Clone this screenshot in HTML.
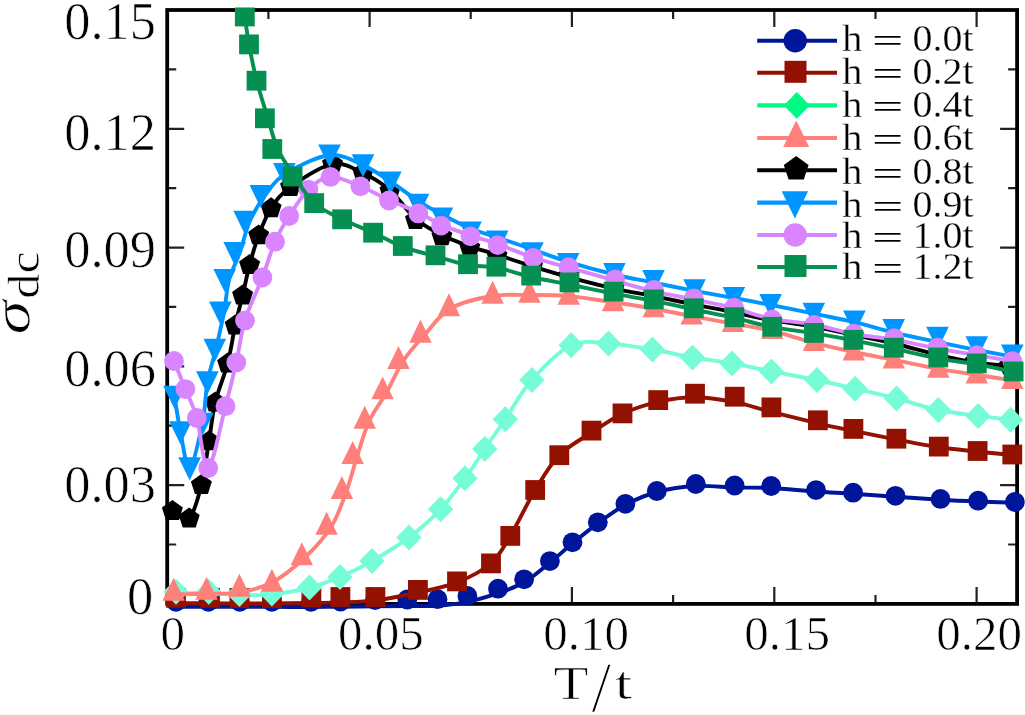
<!DOCTYPE html>
<html lang="en"><head><meta charset="utf-8"><title>sigma_dc vs T/t</title>
<style>html,body{margin:0;padding:0;background:#fff;width:1025px;height:715px;overflow:hidden;}svg{display:block;}text{font-family:"Liberation Serif","DejaVu Serif",serif;fill:#000;stroke:#fff;stroke-width:0.7px;}</style></head><body>
<svg width="1025" height="715" viewBox="0 0 1025 715">
<rect x="0" y="0" width="1025" height="715" fill="#fff"/>
<path d="M369.6,10 v17 M369.6,603.9 v-17 M571.9,10 v17 M571.9,603.9 v-17 M774.3,10 v17 M774.3,603.9 v-17 M976.6,10 v17 M976.6,603.9 v-17 M268.4,10 v9 M268.4,603.9 v-9 M470.7,10 v9 M470.7,603.9 v-9 M673.1,10 v9 M673.1,603.9 v-9 M875.5,10 v9 M875.5,603.9 v-9 M167.2,128.8 h17 M1017.1,128.8 h-17 M167.2,247.6 h17 M1017.1,247.6 h-17 M167.2,366.3 h17 M1017.1,366.3 h-17 M167.2,485.1 h17 M1017.1,485.1 h-17 M167.2,69.4 h9 M1017.1,69.4 h-9 M167.2,188.2 h9 M1017.1,188.2 h-9 M167.2,306.9 h9 M1017.1,306.9 h-9 M167.2,425.7 h9 M1017.1,425.7 h-9 M167.2,544.5 h9 M1017.1,544.5 h-9" stroke="#222" stroke-width="2.2" fill="none"/>
<rect x="167.2" y="10" width="849.9" height="593.9" fill="none" stroke="#000" stroke-width="3.8"/>
<clipPath id="c"><rect x="161.2" y="7.4" width="863.9" height="605.9"/></clipPath>
<g clip-path="url(#c)">
<path d="M176,606.8C181.4,606.8 197.8,606.8 208.4,606.8C219,606.9 229.2,606.9 239.8,606.9C250.4,606.9 260,606.9 271.9,606.9C283.8,606.9 299.6,607 311,607C322.4,606.9 329.8,606.8 340.5,606.7C351.2,606.6 363.9,606.4 375,606.3C386.1,606.2 396.9,606.1 407.3,606C417.7,605.9 427.5,606.4 437.5,605.7C447.5,605 457.3,604 467.4,601.9C477.5,599.8 488.6,596.5 498,593.2C507.4,589.9 515.5,587.4 524.1,582.3C532.8,577.2 541.8,569.1 549.9,562.6C558,556.1 564.5,549.9 572.5,543.3C580.5,536.7 589,529.7 597.8,523.3C606.6,516.9 615.6,510 625.4,504.8C635.2,499.6 645.1,495.2 656.8,492C668.5,488.9 682.8,486.7 695.8,486C708.8,485.2 722,487.2 734.6,487.5C747.2,487.8 757.6,487.3 771.2,488C784.8,488.7 802.4,490.6 816,491.5C829.6,492.5 839.9,492.8 853.1,493.7C866.4,494.6 880.9,495.7 895.5,496.7C910.1,497.7 926.7,498.9 940.5,499.7C954.3,500.5 965.7,501 978.1,501.5C990.5,502 1008.8,502.5 1014.9,502.7" fill="none" stroke="#00169A" stroke-width="3.9" stroke-linejoin="round"/>
<circle cx="176" cy="601.8" r="9.9" fill="#00169A"/><circle cx="208.4" cy="601.8" r="9.9" fill="#00169A"/><circle cx="239.8" cy="601.8" r="9.9" fill="#00169A"/><circle cx="271.9" cy="601.8" r="9.9" fill="#00169A"/><circle cx="311" cy="601.8" r="9.9" fill="#00169A"/><circle cx="340.5" cy="601.5" r="9.9" fill="#00169A"/><circle cx="375" cy="600" r="9.9" fill="#00169A"/><circle cx="407.3" cy="599.5" r="9.9" fill="#00169A"/><circle cx="437.5" cy="599.2" r="9.9" fill="#00169A"/><circle cx="467.4" cy="595.9" r="9.9" fill="#00169A"/><circle cx="498" cy="588.7" r="9.9" fill="#00169A"/><circle cx="524.1" cy="579.3" r="9.9" fill="#00169A"/><circle cx="549.9" cy="561.1" r="9.9" fill="#00169A"/><circle cx="572.5" cy="542.3" r="9.9" fill="#00169A"/><circle cx="597.8" cy="522.3" r="9.9" fill="#00169A"/><circle cx="625.4" cy="503.8" r="9.9" fill="#00169A"/><circle cx="656.8" cy="491" r="9.9" fill="#00169A"/><circle cx="695.8" cy="484" r="9.9" fill="#00169A"/><circle cx="734.6" cy="485.5" r="9.9" fill="#00169A"/><circle cx="771.2" cy="486" r="9.9" fill="#00169A"/><circle cx="816" cy="490.1" r="9.9" fill="#00169A"/><circle cx="853.1" cy="492.7" r="9.9" fill="#00169A"/><circle cx="895.5" cy="495.8" r="9.9" fill="#00169A"/><circle cx="940.5" cy="498.9" r="9.9" fill="#00169A"/><circle cx="978.1" cy="500.7" r="9.9" fill="#00169A"/><circle cx="1014.9" cy="502" r="9.9" fill="#00169A"/>
<path d="M176,603.3C181.7,603.3 199.4,603.3 210,603.3C220.6,603.3 229.1,603.5 239.4,603.5C249.7,603.5 259.9,603.6 271.9,603.5C283.9,603.4 300,603.2 311.4,603C322.8,602.8 329.7,602.9 340.4,602.5C351.1,602.1 362.5,602.2 375.4,600.5C388.3,598.8 404.3,595.5 417.9,592.5C431.5,589.5 444.8,587.3 457,582.4C469.2,577.5 482.1,571.1 491,563.4C499.9,555.6 502.9,548.1 510.3,535.9C517.7,523.7 527,503.4 535.2,490C543.4,476.6 549.9,464.8 559.3,455.2C568.7,445.6 581,439.5 591.5,432.6C602,425.7 611.4,418.9 622.5,413.7C633.6,408.6 646.1,404.5 658.2,401.8C670.3,399.1 682.2,397.3 695,397.3C707.8,397.3 722,399.7 734.7,402.1C747.4,404.5 757.5,408.4 771.4,411.9C785.3,415.4 804.2,420.1 817.9,423.3C831.6,426.5 840.3,428.2 853.4,430.9C866.5,433.6 882.2,436.8 896.4,439.5C910.6,442.2 925.3,445.3 938.8,447.3C952.3,449.3 965.4,450.3 977.6,451.6C989.9,452.9 1006.5,454.4 1012.3,455" fill="none" stroke="#921100" stroke-width="3.9" stroke-linejoin="round"/>
<rect x="166.1" y="587.9" width="19.8" height="19.8" fill="#921100"/><rect x="200.1" y="587.9" width="19.8" height="19.8" fill="#921100"/><rect x="229.5" y="588.1" width="19.8" height="19.8" fill="#921100"/><rect x="262" y="588.1" width="19.8" height="19.8" fill="#921100"/><rect x="301.5" y="587.6" width="19.8" height="19.8" fill="#921100"/><rect x="330.5" y="587.1" width="19.8" height="19.8" fill="#921100"/><rect x="365.5" y="587.1" width="19.8" height="19.8" fill="#921100"/><rect x="408" y="580" width="19.8" height="19.8" fill="#921100"/><rect x="447.1" y="571.5" width="19.8" height="19.8" fill="#921100"/><rect x="481.1" y="553.5" width="19.8" height="19.8" fill="#921100"/><rect x="500.4" y="526" width="19.8" height="19.8" fill="#921100"/><rect x="525.3" y="480.1" width="19.8" height="19.8" fill="#921100"/><rect x="549.4" y="445.3" width="19.8" height="19.8" fill="#921100"/><rect x="581.6" y="420.7" width="19.8" height="19.8" fill="#921100"/><rect x="612.6" y="403.5" width="19.8" height="19.8" fill="#921100"/><rect x="648.3" y="390.2" width="19.8" height="19.8" fill="#921100"/><rect x="685.1" y="383.8" width="19.8" height="19.8" fill="#921100"/><rect x="724.8" y="386.8" width="19.8" height="19.8" fill="#921100"/><rect x="761.5" y="397.5" width="19.8" height="19.8" fill="#921100"/><rect x="808" y="410.4" width="19.8" height="19.8" fill="#921100"/><rect x="843.5" y="419" width="19.8" height="19.8" fill="#921100"/><rect x="886.5" y="428.8" width="19.8" height="19.8" fill="#921100"/><rect x="928.9" y="436.7" width="19.8" height="19.8" fill="#921100"/><rect x="967.7" y="441.1" width="19.8" height="19.8" fill="#921100"/><rect x="1002.4" y="444.6" width="19.8" height="19.8" fill="#921100"/>
<path d="M176,593.2C181.5,593.1 198.2,592.7 208.8,593C219.4,593.3 228.9,594.8 239.4,595.1C249.9,595.3 260.2,595.7 271.9,594.4C283.6,593.2 298.1,590.4 309.5,587.5C320.9,584.6 329.6,581.4 340,577C350.4,572.6 360.5,567.6 372,561C383.5,554.4 397.6,546 409,537.4C420.4,528.8 431.3,519.1 440.6,509.3C449.9,499.5 457.6,488.4 465,478.3C472.4,468.2 478.1,458.9 484.8,449C491.5,439.1 497.5,430.7 505.3,419.2C513.1,407.7 520.9,392.2 531.9,379.9C542.9,367.6 558.4,351.2 571.2,345.2C584,339.1 595,342.9 608.5,343.6C622,344.3 638.4,347.2 652.4,349.5C666.4,351.8 679.2,355.2 692.5,357.5C705.8,359.8 718.9,361.1 732,363.4C745.1,365.7 757.2,368.6 771.4,371.4C785.5,374.2 802.9,377.1 816.9,380C830.9,382.9 841.8,385.6 855.1,388.7C868.4,391.8 882.6,394.9 896.5,398.5C910.4,402.1 924.7,407.1 938.3,410C951.9,412.9 966,414.3 978.1,415.9C990.2,417.5 1005.2,419.1 1010.6,419.7" fill="none" stroke="#76FCD6" stroke-width="3.9" stroke-linejoin="round"/>
<polygon points="176,578.7 188.7,591.7 176,604.7 163.3,591.7" fill="#76FCD6"/><polygon points="208.8,578.7 221.5,591.7 208.8,604.7 196.1,591.7" fill="#76FCD6"/><polygon points="239.4,580.9 252.1,593.9 239.4,606.9 226.7,593.9" fill="#76FCD6"/><polygon points="271.9,580.4 284.6,593.4 271.9,606.4 259.2,593.4" fill="#76FCD6"/><polygon points="309.5,574.5 322.2,587.5 309.5,600.5 296.8,587.5" fill="#76FCD6"/><polygon points="340,564 352.7,577 340,590 327.3,577" fill="#76FCD6"/><polygon points="372,548 384.7,561 372,574 359.3,561" fill="#76FCD6"/><polygon points="409,524.4 421.7,537.4 409,550.4 396.3,537.4" fill="#76FCD6"/><polygon points="440.6,496.3 453.3,509.3 440.6,522.3 427.9,509.3" fill="#76FCD6"/><polygon points="465,465.3 477.7,478.3 465,491.3 452.3,478.3" fill="#76FCD6"/><polygon points="484.8,436 497.5,449 484.8,462 472.1,449" fill="#76FCD6"/><polygon points="505.3,406.2 518,419.2 505.3,432.2 492.6,419.2" fill="#76FCD6"/><polygon points="531.9,366.9 544.6,379.9 531.9,392.9 519.2,379.9" fill="#76FCD6"/><polygon points="571.2,332.2 583.9,345.2 571.2,358.2 558.5,345.2" fill="#76FCD6"/><polygon points="608.5,330.6 621.2,343.6 608.5,356.6 595.8,343.6" fill="#76FCD6"/><polygon points="652.4,336.5 665.1,349.5 652.4,362.5 639.7,349.5" fill="#76FCD6"/><polygon points="692.5,344.5 705.2,357.5 692.5,370.5 679.8,357.5" fill="#76FCD6"/><polygon points="732,350.4 744.7,363.4 732,376.4 719.3,363.4" fill="#76FCD6"/><polygon points="771.4,358.4 784.1,371.4 771.4,384.4 758.7,371.4" fill="#76FCD6"/><polygon points="816.9,367 829.6,380 816.9,393 804.2,380" fill="#76FCD6"/><polygon points="855.1,375.7 867.8,388.7 855.1,401.7 842.4,388.7" fill="#76FCD6"/><polygon points="896.5,385.5 909.2,398.5 896.5,411.5 883.8,398.5" fill="#76FCD6"/><polygon points="938.3,397 951,410 938.3,423 925.6,410" fill="#76FCD6"/><polygon points="978.1,402.9 990.8,415.9 978.1,428.9 965.4,415.9" fill="#76FCD6"/><polygon points="1010.6,406.7 1023.3,419.7 1010.6,432.7 997.9,419.7" fill="#76FCD6"/>
<path d="M173.6,594.4C179.1,594.3 195.5,594.1 206.5,593.8C217.5,593.5 228.5,594.3 239.4,592.4C250.3,590.6 261,588.3 271.9,582.5C282.8,576.7 295,566.8 304.9,557.5C314.8,548.2 324.2,538 331.1,527C338,516 342,503.1 346.4,491.3C350.8,479.5 353.4,467.9 357.2,456.2C361,444.5 364.2,431.8 369.2,421C374.2,410.2 381.5,401.6 387.1,391.6C392.7,381.6 396.8,370.6 403,361.2C409.2,351.8 416.5,343.8 424.5,335C432.4,326.2 439.1,315 450.5,308.5C461.9,302 479.5,298.2 492.6,296C505.8,293.8 516.7,295 529.4,295C542.1,295 554.8,294.9 568.7,296.1C582.7,297.3 598.9,300.2 613.1,302.3C627.3,304.4 640.6,306.4 653.7,308.7C666.8,311 678.4,313.6 691.6,316.1C704.8,318.6 719.5,321.1 732.9,323.6C746.3,326.1 758.7,327.7 772.2,330.9C785.7,334.1 800.4,339.4 814,342.9C827.6,346.4 840.5,349.2 853.8,352C867.1,354.9 879.7,357.1 893.8,359.9C907.9,362.7 924.5,366.4 938.3,368.9C952.1,371.4 964.5,372.9 976.8,374.9C989.1,376.8 1006.4,379.5 1012.3,380.4" fill="none" stroke="#FF807A" stroke-width="3.9" stroke-linejoin="round"/>
<polygon points="173.6,577.8 184.8,600.7 162.4,600.7" fill="#FF807A"/><polygon points="206.5,576.8 217.7,599.7 195.3,599.7" fill="#FF807A"/><polygon points="239.4,573.8 250.6,596.7 228.2,596.7" fill="#FF807A"/><polygon points="271.9,568.8 283.1,591.7 260.7,591.7" fill="#FF807A"/><polygon points="301.8,542.3 313,565.2 290.6,565.2" fill="#FF807A"/><polygon points="326.6,511.8 337.8,534.7 315.4,534.7" fill="#FF807A"/><polygon points="341.9,476.1 353.1,499 330.7,499" fill="#FF807A"/><polygon points="352.7,441 363.9,463.9 341.5,463.9" fill="#FF807A"/><polygon points="364.7,405.8 375.9,428.7 353.5,428.7" fill="#FF807A"/><polygon points="382.6,376.4 393.8,399.3 371.4,399.3" fill="#FF807A"/><polygon points="398.5,346 409.7,368.9 387.3,368.9" fill="#FF807A"/><polygon points="420.5,319.8 431.7,342.7 409.3,342.7" fill="#FF807A"/><polygon points="449,293.3 460.2,316.2 437.8,316.2" fill="#FF807A"/><polygon points="492.6,280.8 503.8,303.7 481.4,303.7" fill="#FF807A"/><polygon points="529.4,279.8 540.6,302.7 518.2,302.7" fill="#FF807A"/><polygon points="568.7,281.8 579.9,304.7 557.5,304.7" fill="#FF807A"/><polygon points="613.1,288.3 624.3,311.2 601.9,311.2" fill="#FF807A"/><polygon points="653.7,294.4 664.9,317.3 642.5,317.3" fill="#FF807A"/><polygon points="691.6,301.7 702.8,324.6 680.4,324.6" fill="#FF807A"/><polygon points="732.9,309 744.1,331.9 721.7,331.9" fill="#FF807A"/><polygon points="772.2,316.1 783.4,339 761,339" fill="#FF807A"/><polygon points="814,328.1 825.2,351 802.8,351" fill="#FF807A"/><polygon points="853.8,337.5 865,360.4 842.6,360.4" fill="#FF807A"/><polygon points="893.8,345.6 905,368.5 882.6,368.5" fill="#FF807A"/><polygon points="938.3,354.8 949.5,377.7 927.1,377.7" fill="#FF807A"/><polygon points="976.8,360.7 988,383.6 965.6,383.6" fill="#FF807A"/><polygon points="1012.3,366.2 1023.5,389.1 1001.1,389.1" fill="#FF807A"/>
<path d="M172.4,511C175.2,512.2 184.4,522.8 189.2,518.5C194,514.2 198.1,497.9 201.4,485C204.7,472.1 206.7,455.1 209,441.3C211.3,427.6 212.1,415.4 215.2,402.5C218.3,389.6 224.3,376.4 227.6,363.6C230.9,350.8 232.7,336.9 235.2,325.5C237.7,314.1 240.2,305.6 242.6,295.5C245,285.4 246.9,275 249.6,265C252.3,255 255.1,244.8 258.7,235.4C262.3,226 265.8,216.4 271.1,208.3C276.4,200.2 280.4,194.3 290.6,187C300.8,179.7 320.4,166.5 332.5,164.2C344.6,161.9 353.4,168.6 363,173C372.6,177.4 381.2,182.7 390,190.3C398.8,198 406.9,211.3 415.5,218.7C424.1,226.1 432.8,230.4 441.9,235C450.9,239.6 460.6,243.1 469.8,246.4C479,249.7 486.6,251.4 497,254.7C507.4,258 520.5,262.6 532.5,266.3C544.5,270 555,273.3 568.7,277.1C582.4,280.8 600.3,285.5 614.5,288.6C628.7,291.8 640.5,293.5 653.7,296.1C666.9,298.8 680.4,301.7 693.8,304.4C707.2,307.1 721,309.6 734,312.3C747,314.9 758.7,318 772,320.4C785.3,322.7 800.4,324.2 814,326.6C827.6,329.1 840.2,332.1 853.5,334.9C866.8,337.8 879.9,340.1 894,343.5C908.1,346.8 924.4,351.8 938,355C951.6,358.2 963.6,360.7 975.5,362.6C987.4,364.4 1003.9,365.3 1009.6,365.8" fill="none" stroke="#000000" stroke-width="3.9" stroke-linejoin="round"/>
<polygon points="172.4,500 182.9,507.6 178.9,519.9 165.9,519.9 161.9,507.6" fill="#000000"/><polygon points="189.2,507.5 199.7,515.1 195.7,527.4 182.7,527.4 178.7,515.1" fill="#000000"/><polygon points="201.4,474 211.9,481.6 207.9,493.9 194.9,493.9 190.9,481.6" fill="#000000"/><polygon points="209,430.3 219.5,437.9 215.5,450.2 202.5,450.2 198.5,437.9" fill="#000000"/><polygon points="215.2,391.5 225.7,399.1 221.7,411.4 208.7,411.4 204.7,399.1" fill="#000000"/><polygon points="227.6,352.6 238.1,360.2 234.1,372.5 221.1,372.5 217.1,360.2" fill="#000000"/><polygon points="235.2,314.5 245.7,322.1 241.7,334.4 228.7,334.4 224.7,322.1" fill="#000000"/><polygon points="242.6,284.5 253.1,292.1 249.1,304.4 236.1,304.4 232.1,292.1" fill="#000000"/><polygon points="249.6,254 260.1,261.6 256.1,273.9 243.1,273.9 239.1,261.6" fill="#000000"/><polygon points="258.7,224.4 269.2,232 265.2,244.3 252.2,244.3 248.2,232" fill="#000000"/><polygon points="271.1,197.3 281.6,204.9 277.6,217.2 264.6,217.2 260.6,204.9" fill="#000000"/><polygon points="290.6,176 301.1,183.6 297.1,195.9 284.1,195.9 280.1,183.6" fill="#000000"/><polygon points="332.5,153.2 343,160.8 339,173.1 326,173.1 322,160.8" fill="#000000"/><polygon points="363,162 373.5,169.6 369.5,181.9 356.5,181.9 352.5,169.6" fill="#000000"/><polygon points="390,180 400.5,187.6 396.5,199.9 383.5,199.9 379.5,187.6" fill="#000000"/><polygon points="415.5,209 426,216.6 422,228.9 409,228.9 405,216.6" fill="#000000"/><polygon points="441.9,225.3 452.4,232.9 448.4,245.2 435.4,245.2 431.4,232.9" fill="#000000"/><polygon points="469.8,236.7 480.3,244.3 476.3,256.6 463.3,256.6 459.3,244.3" fill="#000000"/><polygon points="497,245 507.5,252.6 503.5,264.9 490.5,264.9 486.5,252.6" fill="#000000"/><polygon points="532.5,255.5 543,263.1 539,275.4 526,275.4 522,263.1" fill="#000000"/><polygon points="568.7,265 579.2,272.6 575.2,284.9 562.2,284.9 558.2,272.6" fill="#000000"/><polygon points="614.5,276 625,283.6 621,295.9 608,295.9 604,283.6" fill="#000000"/><polygon points="653.7,284 664.2,291.6 660.2,303.9 647.2,303.9 643.2,291.6" fill="#000000"/><polygon points="693.8,293 704.3,300.6 700.3,312.9 687.3,312.9 683.3,300.6" fill="#000000"/><polygon points="734,302 744.5,309.6 740.5,321.9 727.5,321.9 723.5,309.6" fill="#000000"/><polygon points="772,311.5 782.5,319.1 778.5,331.4 765.5,331.4 761.5,319.1" fill="#000000"/><polygon points="814,318 824.5,325.6 820.5,337.9 807.5,337.9 803.5,325.6" fill="#000000"/><polygon points="853.5,325 864,332.6 860,344.9 847,344.9 843,332.6" fill="#000000"/><polygon points="894,332.5 904.5,340.1 900.5,352.4 887.5,352.4 883.5,340.1" fill="#000000"/><polygon points="938,343 948.5,350.6 944.5,362.9 931.5,362.9 927.5,350.6" fill="#000000"/><polygon points="975.5,350.5 986,358.1 982,370.4 969,370.4 965,358.1" fill="#000000"/><polygon points="1009.6,354.6 1020.1,362.2 1016.1,374.5 1003.1,374.5 999.1,362.2" fill="#000000"/>
<path d="M174.5,396.5C175.5,402.4 178,420.1 180.5,432C183,443.9 186,469.4 189.7,468C193.3,466.6 199.4,437.8 202.4,423.5C205.4,409.2 205.2,394.3 207.5,382C209.7,369.7 213,361.1 215.8,349.5C218.5,337.9 221.8,324 224,312.4C226.2,300.8 226.5,289.6 229.1,279.7C231.8,269.8 236.3,262.6 239.7,252.9C243.1,243.2 245.5,231 249.7,221.5C253.9,212 258.9,203.7 264.8,195.7C270.8,187.7 274.6,180.4 285.4,173.7C296.2,166.9 316.6,156.6 329.5,155.2C342.4,153.8 352.9,160.7 363,165.1C373.1,169.5 381.1,175.4 390.3,181.4C399.5,187.3 409.4,195.3 418,200.8C426.6,206.3 433.1,209.9 441.9,214.5C450.6,219.1 461.3,224.7 470.5,228.5C479.7,232.3 486.9,233.9 497.2,237.4C507.5,240.9 520.6,245.2 532.4,249.3C544.2,253.4 554.5,257.6 568.2,261.8C581.9,266 600.2,271 614.4,274.5C628.6,278 640.1,279.8 653.5,282.6C666.9,285.3 681.1,288.3 694.5,290.9C707.9,293.5 721.2,295.7 733.9,298C746.6,300.4 757.3,302.3 770.6,304.9C783.9,307.6 799.8,310.8 813.8,313.7C827.8,316.6 841.1,318.9 854.4,322.1C867.7,325.2 879.9,329.3 893.7,332.6C907.6,335.9 923.6,338.9 937.5,341.9C951.4,344.8 964.3,347.7 976.8,350.2C989.3,352.6 1006.4,355.3 1012.3,356.4" fill="none" stroke="#0096FF" stroke-width="3.9" stroke-linejoin="round"/>
<polygon points="163.2,385.7 185.8,385.7 174.5,408.9" fill="#0096FF"/><polygon points="169.2,421.2 191.8,421.2 180.5,444.4" fill="#0096FF"/><polygon points="178.4,457.2 201,457.2 189.7,480.4" fill="#0096FF"/><polygon points="191.1,412.7 213.7,412.7 202.4,435.9" fill="#0096FF"/><polygon points="196.1,371.2 218.7,371.2 207.4,394.4" fill="#0096FF"/><polygon points="203.5,338.7 226.1,338.7 214.8,361.9" fill="#0096FF"/><polygon points="209.1,301.6 231.7,301.6 220.4,324.8" fill="#0096FF"/><polygon points="213.4,268.9 236,268.9 224.7,292.1" fill="#0096FF"/><polygon points="223.4,242.1 246,242.1 234.7,265.3" fill="#0096FF"/><polygon points="233.4,210.7 256,210.7 244.7,233.9" fill="#0096FF"/><polygon points="249.5,184.9 272.1,184.9 260.8,208.1" fill="#0096FF"/><polygon points="273.1,162.9 295.7,162.9 284.4,186.1" fill="#0096FF"/><polygon points="318.2,144.4 340.8,144.4 329.5,167.6" fill="#0096FF"/><polygon points="351.7,154.3 374.3,154.3 363,177.5" fill="#0096FF"/><polygon points="379,171.6 401.6,171.6 390.3,194.8" fill="#0096FF"/><polygon points="406.7,193.7 429.3,193.7 418,216.9" fill="#0096FF"/><polygon points="430.6,207.5 453.2,207.5 441.9,230.7" fill="#0096FF"/><polygon points="459.2,221.5 481.8,221.5 470.5,244.7" fill="#0096FF"/><polygon points="485.9,230.4 508.5,230.4 497.2,253.6" fill="#0096FF"/><polygon points="521.1,242.3 543.7,242.3 532.4,265.5" fill="#0096FF"/><polygon points="556.9,252.9 579.5,252.9 568.2,276.1" fill="#0096FF"/><polygon points="603.1,263.1 625.7,263.1 614.4,286.3" fill="#0096FF"/><polygon points="642.2,270 664.8,270 653.5,293.2" fill="#0096FF"/><polygon points="683.2,279.3 705.8,279.3 694.5,302.5" fill="#0096FF"/><polygon points="722.6,286.9 745.2,286.9 733.9,310.1" fill="#0096FF"/><polygon points="759.3,294 781.9,294 770.6,317.2" fill="#0096FF"/><polygon points="802.5,302.7 825.1,302.7 813.8,325.9" fill="#0096FF"/><polygon points="843.1,310.5 865.7,310.5 854.4,333.7" fill="#0096FF"/><polygon points="882.4,319.1 905,319.1 893.7,342.3" fill="#0096FF"/><polygon points="926.2,326.8 948.8,326.8 937.5,350" fill="#0096FF"/><polygon points="965.5,336.2 988.1,336.2 976.8,359.4" fill="#0096FF"/><polygon points="1001,344.5 1023.6,344.5 1012.3,367.7" fill="#0096FF"/>
<path d="M174,361C175.9,365.7 181.6,379.6 185.4,389.1C189.2,398.6 193,404.9 196.8,418C200.6,431.1 203.4,470 208.2,468C213,466 220.8,423.8 225.5,406.2C230.2,388.6 233.1,376.7 236.3,362.4C239.6,348.1 240.7,334.5 245,320.4C249.3,306.2 257.4,290.6 262.4,277.5C267.4,264.4 270.5,251.9 275,241.7C279.5,231.4 283.6,224.7 289.2,216C294.8,207.3 301.5,196.1 308.4,189.6C315.3,183.1 321.8,177.4 330.5,176.9C339.2,176.4 350.6,182.4 360.4,186.3C370.1,190.2 379.4,195.7 389,200.1C398.6,204.4 409.6,208.3 418.3,212.4C427,216.5 432.4,220.8 441.1,224.6C449.8,228.4 461.1,232.1 470.5,235.3C479.9,238.6 487.2,240.4 497.7,244.1C508.1,247.8 521.4,253.6 533.2,257.5C545,261.4 555.1,263.7 568.7,267.6C582.4,271.4 600.9,276.6 615.1,280.6C629.3,284.6 640.7,288.2 653.8,291.4C666.9,294.5 680.4,296.6 693.8,299.4C707.2,302.2 720.9,304.9 734,308.2C747.1,311.5 759,316.4 772.3,319.1C785.6,321.8 800.4,321.9 814,324.5C827.6,327 840.4,331.6 853.8,334.1C867.2,336.6 880.2,337.2 894.2,339.6C908.2,342 923.9,346 937.7,348.6C951.5,351.2 964.4,353.1 976.9,355.2C989.4,357.3 1006.6,360.2 1012.5,361.2" fill="none" stroke="#D885FF" stroke-width="3.9" stroke-linejoin="round"/>
<circle cx="174" cy="361" r="9.9" fill="#D885FF"/><circle cx="185.4" cy="389.1" r="9.9" fill="#D885FF"/><circle cx="196.8" cy="418" r="9.9" fill="#D885FF"/><circle cx="208.2" cy="468" r="9.9" fill="#D885FF"/><circle cx="225.5" cy="406.2" r="9.9" fill="#D885FF"/><circle cx="236.3" cy="362.4" r="9.9" fill="#D885FF"/><circle cx="245" cy="320.4" r="9.9" fill="#D885FF"/><circle cx="262.4" cy="277.5" r="9.9" fill="#D885FF"/><circle cx="275" cy="241.7" r="9.9" fill="#D885FF"/><circle cx="289.2" cy="216" r="9.9" fill="#D885FF"/><circle cx="308.4" cy="189.6" r="9.9" fill="#D885FF"/><circle cx="330.5" cy="176.9" r="9.9" fill="#D885FF"/><circle cx="360.4" cy="186.3" r="9.9" fill="#D885FF"/><circle cx="389" cy="200.5" r="9.9" fill="#D885FF"/><circle cx="418.3" cy="213.4" r="9.9" fill="#D885FF"/><circle cx="441.1" cy="225.6" r="9.9" fill="#D885FF"/><circle cx="470.5" cy="236.3" r="9.9" fill="#D885FF"/><circle cx="497.7" cy="245.1" r="9.9" fill="#D885FF"/><circle cx="533.2" cy="257.8" r="9.9" fill="#D885FF"/><circle cx="568.7" cy="267.2" r="9.9" fill="#D885FF"/><circle cx="615.1" cy="279.4" r="9.9" fill="#D885FF"/><circle cx="653.8" cy="290" r="9.9" fill="#D885FF"/><circle cx="693.8" cy="298.3" r="9.9" fill="#D885FF"/><circle cx="734" cy="307.7" r="9.9" fill="#D885FF"/><circle cx="772.3" cy="319.5" r="9.9" fill="#D885FF"/><circle cx="814" cy="325" r="9.9" fill="#D885FF"/><circle cx="853.8" cy="333.7" r="9.9" fill="#D885FF"/><circle cx="894.2" cy="338.2" r="9.9" fill="#D885FF"/><circle cx="937.7" cy="347.6" r="9.9" fill="#D885FF"/><circle cx="976.9" cy="355.2" r="9.9" fill="#D885FF"/><circle cx="1012.5" cy="361.2" r="9.9" fill="#D885FF"/>
<path d="M244.8,16.5C245.5,21.1 247,33.7 249,44.4C251,55.1 253.5,68.4 256.7,80.7C259.8,93 264.4,106.9 267.9,118.3C271.4,129.7 273.3,139.3 277.7,149C282.2,158.7 288.5,167.5 294.5,176.5C300.6,185.5 306.3,196 314.2,203.1C322.1,210.2 332.3,214.4 342.1,219.3C351.9,224.2 363,228.1 373.1,232.7C383.2,237.3 392.4,242.9 402.8,246.8C413.2,250.7 424.6,253.1 435.5,256.1C446.4,259.1 457.9,263.1 468,265C478.1,266.9 485.9,265.5 496.4,267.5C506.9,269.5 519,274.2 531.2,277C543.4,279.8 555.8,281.7 569.5,284.5C583.2,287.3 599.6,290.9 613.6,293.7C627.6,296.4 640.4,298.3 653.8,300.9C667.2,303.6 680.4,306.6 693.8,309.5C707.2,312.3 721.3,315 734.4,317.9C747.5,320.9 758.9,324.6 772.2,327.1C785.5,329.6 800.5,330.9 814,333.1C827.5,335.3 840.1,337.8 853.4,340.4C866.7,343 879.6,345.6 893.8,348.6C907.9,351.7 924.5,356 938.3,358.6C952.1,361.2 964.2,362 976.8,364.2C989.3,366.4 1007.5,370.7 1013.6,372" fill="none" stroke="#058F50" stroke-width="3.9" stroke-linejoin="round"/>
<rect x="234.9" y="6.6" width="19.8" height="19.8" fill="#058F50"/><rect x="239.1" y="34.5" width="19.8" height="19.8" fill="#058F50"/><rect x="246.6" y="70.8" width="19.8" height="19.8" fill="#058F50"/><rect x="255" y="108.4" width="19.8" height="19.8" fill="#058F50"/><rect x="262.4" y="139.1" width="19.8" height="19.8" fill="#058F50"/><rect x="282.7" y="166.6" width="19.8" height="19.8" fill="#058F50"/><rect x="304.3" y="193.2" width="19.8" height="19.8" fill="#058F50"/><rect x="332.2" y="209.4" width="19.8" height="19.8" fill="#058F50"/><rect x="363.2" y="222.8" width="19.8" height="19.8" fill="#058F50"/><rect x="392.9" y="236.1" width="19.8" height="19.8" fill="#058F50"/><rect x="425.6" y="245.4" width="19.8" height="19.8" fill="#058F50"/><rect x="458.1" y="254.3" width="19.8" height="19.8" fill="#058F50"/><rect x="486.5" y="256.8" width="19.8" height="19.8" fill="#058F50"/><rect x="521.3" y="265.7" width="19.8" height="19.8" fill="#058F50"/><rect x="559.6" y="272.5" width="19.8" height="19.8" fill="#058F50"/><rect x="603.7" y="281.7" width="19.8" height="19.8" fill="#058F50"/><rect x="643.9" y="289.5" width="19.8" height="19.8" fill="#058F50"/><rect x="683.9" y="298.4" width="19.8" height="19.8" fill="#058F50"/><rect x="724.5" y="307.3" width="19.8" height="19.8" fill="#058F50"/><rect x="762.3" y="316.9" width="19.8" height="19.8" fill="#058F50"/><rect x="804.1" y="323" width="19.8" height="19.8" fill="#058F50"/><rect x="843.5" y="329.9" width="19.8" height="19.8" fill="#058F50"/><rect x="883.9" y="337.8" width="19.8" height="19.8" fill="#058F50"/><rect x="928.4" y="347.6" width="19.8" height="19.8" fill="#058F50"/><rect x="966.9" y="353.5" width="19.8" height="19.8" fill="#058F50"/><rect x="1003.7" y="361.6" width="19.8" height="19.8" fill="#058F50"/>
</g>
<path d="M757.2,40.8 H837" stroke="#00169A" stroke-width="4.1" fill="none"/>
<circle cx="795.2" cy="40.8" r="11.7" fill="#00169A"/>
<text x="842.1" y="50.9" font-size="37.5" style="stroke-width:0.3px" textLength="20.4" lengthAdjust="spacingAndGlyphs">h</text>
<text x="871.9" y="51.9" font-size="33" style="stroke-width:0.1px" textLength="31.4" lengthAdjust="spacingAndGlyphs">=</text>
<text x="912.6" y="50.9" font-size="37.5" style="stroke-width:0.3px" textLength="61" lengthAdjust="spacingAndGlyphs">0.0t</text>
<path d="M757.2,72.8 H837" stroke="#921100" stroke-width="4.1" fill="none"/>
<rect x="784.5" y="60.8" width="22" height="22" fill="#921100"/>
<text x="842.1" y="83.8" font-size="37.5" style="stroke-width:0.3px" textLength="20.4" lengthAdjust="spacingAndGlyphs">h</text>
<text x="871.9" y="84.8" font-size="33" style="stroke-width:0.1px" textLength="31.4" lengthAdjust="spacingAndGlyphs">=</text>
<text x="912.6" y="83.8" font-size="37.5" style="stroke-width:0.3px" textLength="61" lengthAdjust="spacingAndGlyphs">0.2t</text>
<path d="M757.2,105.4 H837" stroke="#00FA84" stroke-width="4.1" fill="none"/>
<polygon points="796.8,92.1 809.9,105.4 796.8,118.7 783.7,105.4" fill="#00FA84"/>
<text x="842.1" y="116.8" font-size="37.5" style="stroke-width:0.3px" textLength="20.4" lengthAdjust="spacingAndGlyphs">h</text>
<text x="871.9" y="117.8" font-size="33" style="stroke-width:0.1px" textLength="31.4" lengthAdjust="spacingAndGlyphs">=</text>
<text x="912.6" y="116.8" font-size="37.5" style="stroke-width:0.3px" textLength="61" lengthAdjust="spacingAndGlyphs">0.4t</text>
<path d="M757.2,138 H837" stroke="#FF807A" stroke-width="4.1" fill="none"/>
<polygon points="796.2,120.4 809.2,146.9 783.2,146.9" fill="#FF807A"/>
<text x="842.1" y="149.8" font-size="37.5" style="stroke-width:0.3px" textLength="20.4" lengthAdjust="spacingAndGlyphs">h</text>
<text x="871.9" y="150.8" font-size="33" style="stroke-width:0.1px" textLength="31.4" lengthAdjust="spacingAndGlyphs">=</text>
<text x="912.6" y="149.8" font-size="37.5" style="stroke-width:0.3px" textLength="61" lengthAdjust="spacingAndGlyphs">0.6t</text>
<path d="M757.2,170.2 H837" stroke="#000000" stroke-width="4.1" fill="none"/>
<polygon points="796.2,156 808.6,165 803.8,179.5 788.6,179.5 783.8,165" fill="#000000"/>
<text x="842.1" y="183.5" font-size="37.5" style="stroke-width:0.3px" textLength="20.4" lengthAdjust="spacingAndGlyphs">h</text>
<text x="871.9" y="184.5" font-size="33" style="stroke-width:0.1px" textLength="31.4" lengthAdjust="spacingAndGlyphs">=</text>
<text x="912.6" y="183.5" font-size="37.5" style="stroke-width:0.3px" textLength="61" lengthAdjust="spacingAndGlyphs">0.8t</text>
<path d="M757.2,202.6 H837" stroke="#0096FF" stroke-width="4.1" fill="none"/>
<polygon points="781.7,191.3 808.1,191.3 794.9,218.4" fill="#0096FF"/>
<text x="842.1" y="216.8" font-size="37.5" style="stroke-width:0.3px" textLength="20.4" lengthAdjust="spacingAndGlyphs">h</text>
<text x="871.9" y="217.8" font-size="33" style="stroke-width:0.1px" textLength="31.4" lengthAdjust="spacingAndGlyphs">=</text>
<text x="912.6" y="216.8" font-size="37.5" style="stroke-width:0.3px" textLength="61" lengthAdjust="spacingAndGlyphs">0.9t</text>
<path d="M757.2,235 H837" stroke="#D885FF" stroke-width="4.1" fill="none"/>
<circle cx="795.2" cy="235" r="11.7" fill="#D885FF"/>
<text x="842.1" y="247.7" font-size="37.5" style="stroke-width:0.3px" textLength="20.4" lengthAdjust="spacingAndGlyphs">h</text>
<text x="871.9" y="248.7" font-size="33" style="stroke-width:0.1px" textLength="31.4" lengthAdjust="spacingAndGlyphs">=</text>
<text x="912.6" y="247.7" font-size="37.5" style="stroke-width:0.3px" textLength="61" lengthAdjust="spacingAndGlyphs">1.0t</text>
<path d="M757.2,267 H837" stroke="#058F50" stroke-width="4.1" fill="none"/>
<rect x="784.5" y="255" width="22" height="22" fill="#058F50"/>
<text x="842.1" y="278.5" font-size="37.5" style="stroke-width:0.3px" textLength="20.4" lengthAdjust="spacingAndGlyphs">h</text>
<text x="871.9" y="279.5" font-size="33" style="stroke-width:0.1px" textLength="31.4" lengthAdjust="spacingAndGlyphs">=</text>
<text x="912.6" y="278.5" font-size="37.5" style="stroke-width:0.3px" textLength="61" lengthAdjust="spacingAndGlyphs">1.2t</text>
<text x="156" y="39.1" font-size="52.5" textLength="91.8" lengthAdjust="spacingAndGlyphs" text-anchor="end">0.15</text>
<text x="156" y="150.2" font-size="52.5" textLength="91.8" lengthAdjust="spacingAndGlyphs" text-anchor="end">0.12</text>
<text x="156" y="266.7" font-size="52.5" textLength="91.8" lengthAdjust="spacingAndGlyphs" text-anchor="end">0.09</text>
<text x="156" y="385.9" font-size="52.5" textLength="91.8" lengthAdjust="spacingAndGlyphs" text-anchor="end">0.06</text>
<text x="156" y="502.1" font-size="52.5" textLength="91.8" lengthAdjust="spacingAndGlyphs" text-anchor="end">0.03</text>
<text x="153.3" y="614.4" font-size="52.5" text-anchor="end">0</text>
<text x="172.8" y="650.3" font-size="49" text-anchor="middle">0</text>
<text x="380.9" y="650.3" font-size="49" text-anchor="middle">0.05</text>
<text x="586.1" y="650.3" font-size="49" text-anchor="middle">0.10</text>
<text x="787" y="650.3" font-size="49" text-anchor="middle">0.15</text>
<text x="979" y="650.3" font-size="49" text-anchor="middle">0.20</text>
<text x="553.5" y="698.9" font-size="47" textLength="35" lengthAdjust="spacingAndGlyphs">T</text>
<text x="591.3" y="710.6" font-size="72" style="stroke-width:1.3px">/</text>
<text x="614.8" y="698.9" font-size="47" textLength="17.5" lengthAdjust="spacingAndGlyphs">t</text>
<g transform="translate(28.8,334.4) rotate(-90)"><text x="0" y="0" font-size="52.3" font-style="italic" textLength="34" lengthAdjust="spacingAndGlyphs">σ</text></g>
<g transform="translate(38.9,298.7) rotate(-90)"><text x="0" y="0" font-size="44" textLength="47.5" lengthAdjust="spacingAndGlyphs">dc</text></g>
</svg></body></html>
